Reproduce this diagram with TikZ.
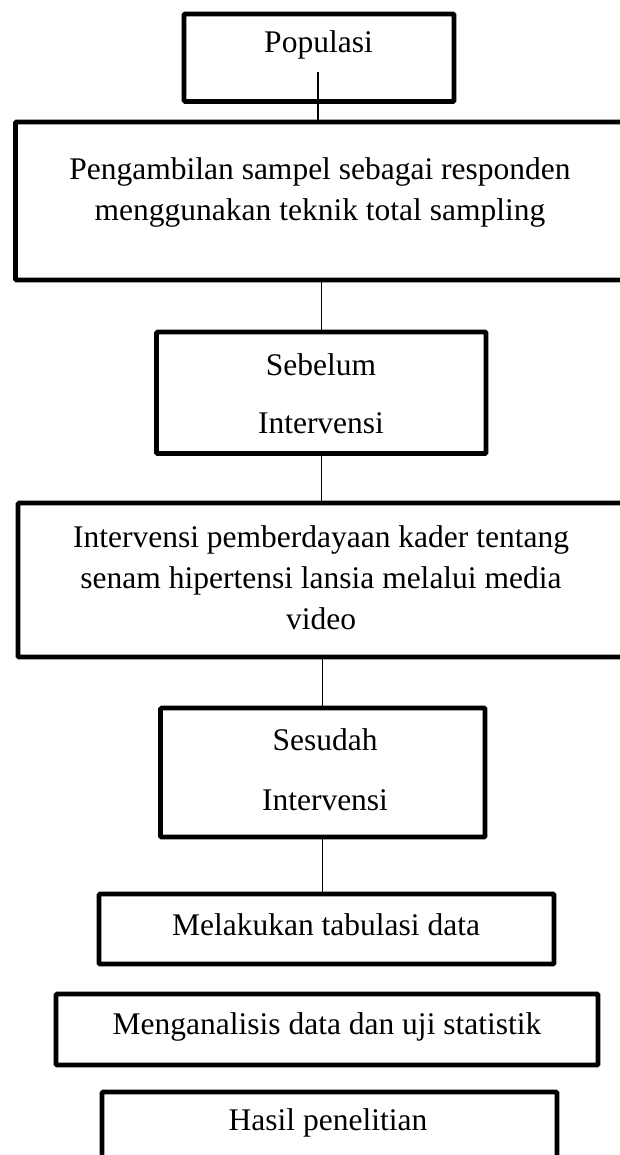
\documentclass[tikz,border=0pt]{standalone}
\usepackage{fontspec}
\setmainfont{Liberation Serif}
\usepackage{tikz}
\usetikzlibrary{calc}

\begin{document}
\begin{tikzpicture}[
  x=1pt, y=-1pt,
  box/.style={draw, line width=4.6pt, rounded corners=1pt, inner sep=0pt},
  lbl/.style={align=center, inner sep=0pt,
              font=\fontsize{31.5}{41}\selectfont},
  ln/.style={line width=1.2pt}]
\useasboundingbox (0,0) rectangle (619,1155);
% boxes
\node[box, minimum width=270pt, minimum height=87.5pt] (pop) at (319,57.75) {};
\node[box, minimum width=624.5pt, minimum height=158pt] (samp) at (327.75,201) {};
\node[box, minimum width=329.5pt, minimum height=121.5pt] (sblm) at (321.25,392.75) {};
\node[box, minimum width=622pt, minimum height=154pt] (intv) at (329,580) {};
\node[box, minimum width=324.5pt, minimum height=129pt] (ssdh) at (322.75,772.5) {};
\node[box, minimum width=455pt, minimum height=70pt] (tab) at (326.5,929) {};
\node[box, minimum width=542pt, minimum height=71pt] (anls) at (327,1029.5) {};
\node[box, minimum width=455pt, minimum height=78pt] (hsl) at (329.5,1131) {};
% texts
\node[lbl] (pop-t) at (318.5,45) {Populasi};
\node[lbl] (samp-t) at (320,192.5) {Pengambilan sampel sebagai responden\\menggunakan teknik total sampling};
\node[lbl] (sblm-t) at (321,394) {Sebelum\\[17pt]Intervensi};
\node[lbl] (intv-t) at (321,578) {Intervensi pemberdayaan kader tentang\\senam hipertensi lansia melalui media\\video};
\node[lbl] (ssdh-t) at (325,770) {Sesudah\\[19pt]Intervensi};
\node[lbl] (tab-t) at (326,925) {Melakukan tabulasi data};
\node[lbl] (anls-t) at (327,1027) {Menganalisis data dan uji statistik};
\node[lbl] (hsl-t) at (328,1123) {Hasil penelitian};
% links
\coordinate (pop-in) at (318,72);
\draw[ln] (pop-in) -- (pop-in |- samp.north);
\draw[ln] (samp.south -| sblm.north) -- (sblm.north);
\draw[ln] (sblm.south) -- (sblm.south |- intv.north);
\draw[ln] (intv.south -| ssdh.north) -- (ssdh.north);
\draw[ln] (ssdh.south) -- (ssdh.south |- tab.north);
\end{tikzpicture}
\end{document}
